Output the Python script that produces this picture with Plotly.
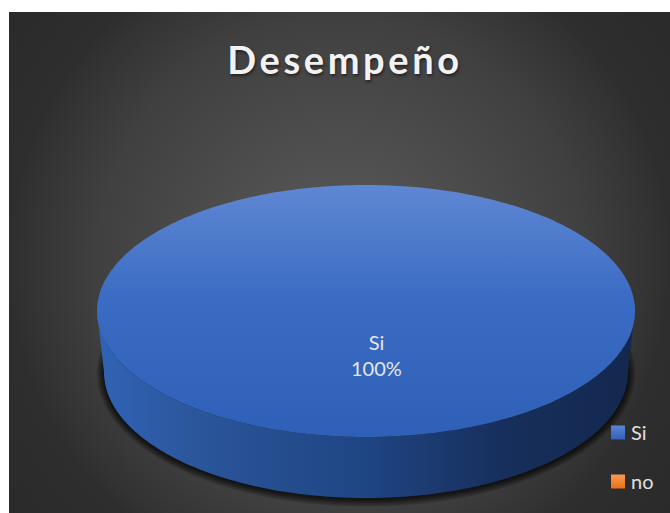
import numpy as np
import plotly.graph_objects as go

# ---- data ----
title_text = "Desempeño"
categories = ["Si", "no"]
values = [100, 0]

# ---- styles ----
top_colors = {
    "Si": [[0, "#5f87d2"], [0.45, "#3a6cc4"], [1, "#2e60b8"]],
    "no": [[0, "#f89a52"], [1, "#ed7014"]],
}
legend_colors = {"Si": ("#5b85d0", "#2f62bb"), "no": ("#f89a52", "#ed7014")}
wall_colors = {
    "Si": [[0, "#3163b6"], [0.2, "#2a5599"], [0.5, "#1f4583"], [0.75, "#172f5c"], [1, "#14284e"]],
    "no": [[0, "#ed7014"], [1, "#7a3a0a"]],
}
bg_colors = [[0, "#5c5c5c"], [0.26, "#4f4f4f"], [0.58, "#404040"], [0.74, "#333333"],
             [0.79, "#2e2e2e"], [1, "#2a2a2a"]]

W, H = 670, 513
FRAME = (9, 670, 12, 513)
CX, CY, RX, RY = 366, 311, 269, 126
BCY, BRX = 372, 262   # lower rim of the disc
GLOW_X, GLOW_Y, GLOW_R = 340, 262, 420


def top_xy(t):
    return CX + RX * np.cos(t), CY + RY * np.sin(t)


def low_xy(t, grow=0.0, dy=0.0):
    return CX + (BRX + grow) * np.cos(t), BCY + dy + (RY + grow) * np.sin(t)


fig = go.Figure()

# chart background: a square larger than the frame, so the glow stays circular
fig.add_trace(go.Scatter(
    x=[GLOW_X - GLOW_R, GLOW_X + GLOW_R, GLOW_X + GLOW_R, GLOW_X - GLOW_R, GLOW_X - GLOW_R],
    y=[GLOW_Y - GLOW_R, GLOW_Y - GLOW_R, GLOW_Y + GLOW_R, GLOW_Y + GLOW_R, GLOW_Y - GLOW_R],
    mode="none", fill="toself",
    fillgradient=dict(type="radial", colorscale=bg_colors),
    hoverinfo="skip", showlegend=False,
))

# soft shadow under the disc
t_all = np.linspace(0, 2 * np.pi, 240)
for g in [7, 5.5, 4, 2.8, 1.6, 0.6]:
    sx, sy = low_xy(t_all, grow=g, dy=1.5)
    fig.add_trace(go.Scatter(x=sx, y=sy, mode="none", fill="toself",
                             fillcolor="rgba(0,0,0,0.16)", hoverinfo="skip", showlegend=False))

# slices derived from the values
total = sum(values)
start = -np.pi / 2
label_pts = []
for cat, val in zip(categories, values):
    sweep = 2 * np.pi * val / total
    if val <= 0:
        continue
    t = np.linspace(start, start + sweep, 361)
    # side wall: only the part that faces the viewer
    front = np.sort(np.mod(t, 2 * np.pi))
    front = front[front <= np.pi]
    if front.size > 1:
        ux, uy = top_xy(front)
        lx, ly = low_xy(front[::-1])
        fig.add_trace(go.Scatter(
            x=np.r_[ux, lx, ux[0]], y=np.r_[uy, ly, uy[0]], mode="none", fill="toself",
            fillgradient=dict(type="horizontal", colorscale=wall_colors[cat],
                              start=CX - RX, stop=CX + RX),
            hoverinfo="skip", showlegend=False,
        ))
    # top face
    tx, ty = top_xy(t)
    fig.add_trace(go.Scatter(
        x=np.r_[CX, tx, CX], y=np.r_[CY, ty, CY], mode="none", fill="toself",
        fillgradient=dict(type="vertical", colorscale=top_colors[cat],
                          start=CY - RY, stop=CY + RY),
        hoverinfo="skip", showlegend=False,
    ))
    label_pts.append((cat, val, start + sweep / 2))
    start += sweep

# data labels
for cat, val, mid in label_pts:
    share = 100 * val / total
    fig.add_annotation(
        x=CX + 10, y=CY + 44, text=f"{cat}<br>{share:.0f}%", showarrow=False,
        font=dict(family="Lato", size=20, color="#e6e6e6"), align="center",
    )

# legend
for cat in categories:
    c0, c1 = legend_colors[cat]
    fig.add_trace(go.Scatter(
        x=[None], y=[None], mode="markers", name=cat, legendgroup=cat,
        marker=dict(symbol="square", size=14, color=c0,
                    gradient=dict(type="vertical", color=c1)),
    ))

x0, x1, y0, y1 = FRAME
fig.update_layout(
    width=W, height=H, autosize=False,
    margin=dict(l=0, r=0, t=0, b=0),
    paper_bgcolor="white", plot_bgcolor="white",
    xaxis=dict(domain=[x0 / W, x1 / W], range=[x0, x1], visible=False, fixedrange=True),
    yaxis=dict(domain=[1 - y1 / H, 1 - y0 / H], range=[y1, y0], visible=False, fixedrange=True),
    title=dict(
        text=f"<b>{title_text}</b>", x=345 / W, xanchor="center", y=1 - 61 / H, yanchor="middle",
        font=dict(family="Lato", size=38, color="#f2f2f2", shadow="1px 2px 3px rgba(0,0,0,0.5)"),
    ),
    legend=dict(
        x=598 / W, xanchor="left", y=1 - 413 / H, yanchor="top",
        bgcolor="rgba(0,0,0,0)", font=dict(family="Lato", size=20, color="#e0e0e0"),
        traceorder="grouped", tracegroupgap=20, itemwidth=30, itemclick=False, itemdoubleclick=False,
    ),
    showlegend=True,
)

post = """
document.body.style.margin = '0';
document.querySelectorAll('.gtitle').forEach(function (n) { n.style.letterSpacing = '3.6px'; });
document.querySelectorAll('.legendtext').forEach(function (n) {
  n.setAttribute('x', parseFloat(n.getAttribute('x')) - 7);
});
"""
fig.write_html("out.html", post_script=post, config={"displayModeBar": False})
